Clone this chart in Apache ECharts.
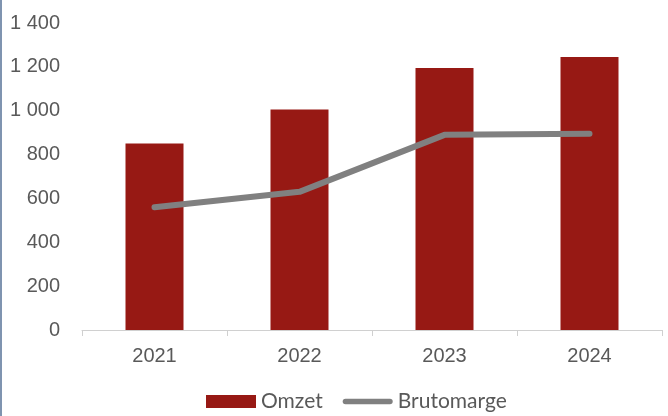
<!DOCTYPE html>
<html lang="nl">
<head>
    <meta charset="UTF-8">
    <script src="https://cdn.jsdelivr.net/npm/echarts@6/dist/echarts.min.js"></script>
    <style>
        html, body { margin: 0; padding: 0; background: #fff; }
        #chart { width: 668px; height: 416px; }
    </style>
    <title>Omzet en brutomarge</title>
</head>
<body>
    <div id="chart"></div>
    <script type="text/javascript">
        // gegevens uit de grafiek
        var jaren = ['2021', '2022', '2023', '2024'];
        var omzet = [850, 1005, 1195, 1245];
        var brutomarge = [560, 630, 890, 895];

        var chart = echarts.init(document.getElementById('chart'));

        function duizendtal(v) {
            return String(v).replace(/\B(?=(\d{3})+(?!\d))/g, ' ');
        }

        var option = {
            animation: false,
            grid: { left: 82, right: 6, top: 23, bottom: 86 },
            graphic: [{
                type: 'rect',
                left: 0, top: 0,
                shape: { width: 2, height: 416 },
                style: { fill: '#7f94b0' }
            }],
            legend: {
                left: 206,
                top: 391,
                padding: 0,
                itemWidth: 50,
                itemHeight: 13,
                itemGap: 20,
                textStyle: { fontFamily: 'Lato', fontSize: 21, color: '#595959' },
                data: [
                    { name: 'Omzet', icon: 'rect' },
                    { name: 'Brutomarge', icon: 'path://M3,0 L51,0 A3,3 0 0 1 51,6 L3,6 A3,3 0 0 1 3,0 Z' }
                ]
            },
            xAxis: {
                type: 'category',
                data: jaren,
                axisLine: { lineStyle: { color: '#d0d0d0', width: 1 } },
                axisTick: { show: true, length: 6, lineStyle: { color: '#d0d0d0', width: 1 } },
                axisLabel: { color: '#595959', fontFamily: 'Liberation Sans', fontSize: 20, margin: 16 }
            },
            yAxis: {
                type: 'value',
                min: 0,
                max: 1400,
                interval: 200,
                axisLine: { show: false },
                axisTick: { show: false },
                splitLine: { show: false },
                axisLabel: {
                    color: '#595959', fontFamily: 'Liberation Sans', fontSize: 20, margin: 22,
                    formatter: duizendtal
                }
            },
            series: [{
                name: 'Omzet',
                type: 'bar',
                data: omzet,
                barWidth: '40%',
                itemStyle: { color: '#971914' }
            }, {
                name: 'Brutomarge',
                type: 'line',
                data: brutomarge,
                symbol: 'none',
                lineStyle: { color: '#808080', width: 6, cap: 'round', join: 'round' },
                itemStyle: { color: '#808080' }
            }]
        };
        chart.setOption(option);
    </script>
</body>
</html>
